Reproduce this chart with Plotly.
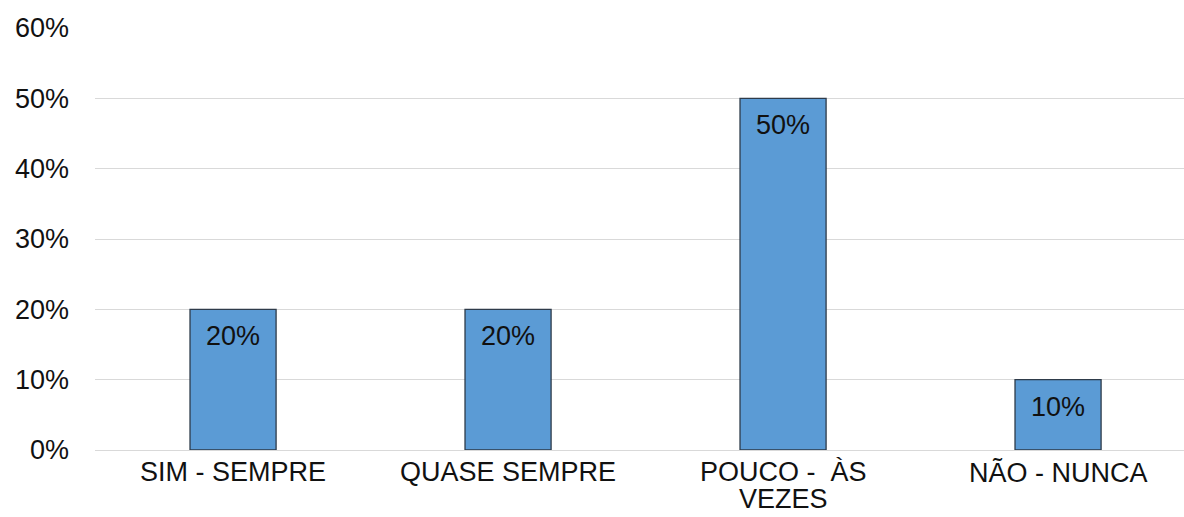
import plotly.graph_objects as go

categories = ["SIM - SEMPRE", "QUASE SEMPRE", "POUCO - \u00a0ÀS VEZES", "NÃO - NUNCA"]
# line breaks used for the category labels under the axis
category_lines = [["SIM - SEMPRE"], ["QUASE SEMPRE"], ["POUCO - \u00a0ÀS", "VEZES"], ["NÃO - NUNCA"]]
values = [0.20, 0.20, 0.50, 0.10]
labels = ["20%", "20%", "50%", "10%"]
tick_vals = [0, 0.1, 0.2, 0.3, 0.4, 0.5, 0.6]
tick_text = ["0%", "10%", "20%", "30%", "40%", "50%", "60%"]

font_family = "Liberation Sans, Arial, sans-serif"
text_color = "#111111"
font_size = 27

x_pos = list(range(len(categories)))

fig = go.Figure(
    go.Bar(
        x=x_pos,
        y=values,
        marker=dict(color="#5B9BD5", line=dict(color="#2E3B4A", width=1.3)),
        width=0.313,
        hovertext=categories,
        hoverinfo="text+y",
    )
)

# value labels just inside the top of each bar
for xi, v, lab in zip(x_pos, values, labels):
    fig.add_annotation(
        x=xi, y=v, text=lab, showarrow=False,
        yanchor="top", yshift=-10,
        font=dict(family=font_family, size=font_size, color=text_color),
    )

# category labels below the baseline, with tight line spacing
for xi, lines in zip(x_pos, category_lines):
    for k, line in enumerate(lines):
        fig.add_annotation(
            x=xi, y=0, text=line, showarrow=False,
            yanchor="top", yshift=-5 - 27 * k,
            font=dict(family=font_family, size=font_size, color=text_color),
        )

fig.update_layout(
    width=1184,
    height=517,
    margin=dict(l=95, r=0, t=28, b=67, autoexpand=False),
    paper_bgcolor="white",
    plot_bgcolor="white",
    showlegend=False,
    font=dict(family=font_family, size=font_size, color=text_color),
    xaxis=dict(
        range=[-0.502, 3.458],
        tickmode="array",
        tickvals=x_pos,
        showticklabels=False,
        showgrid=False,
        zeroline=False,
        showline=False,
        ticks="",
        automargin=False,
    ),
    yaxis=dict(
        range=[0, 0.6],
        tickmode="array",
        tickvals=tick_vals,
        ticktext=tick_text,
        showgrid=True,
        gridcolor="#D9D9D9",
        gridwidth=1,
        zeroline=True,
        zerolinecolor="#D9D9D9",
        zerolinewidth=1,
        showline=False,
        ticks="",
        automargin=False,
        ticklabelstandoff=25,
        tickfont=dict(family=font_family, size=font_size, color=text_color),
    ),
)

fig.write_html("out.html")
